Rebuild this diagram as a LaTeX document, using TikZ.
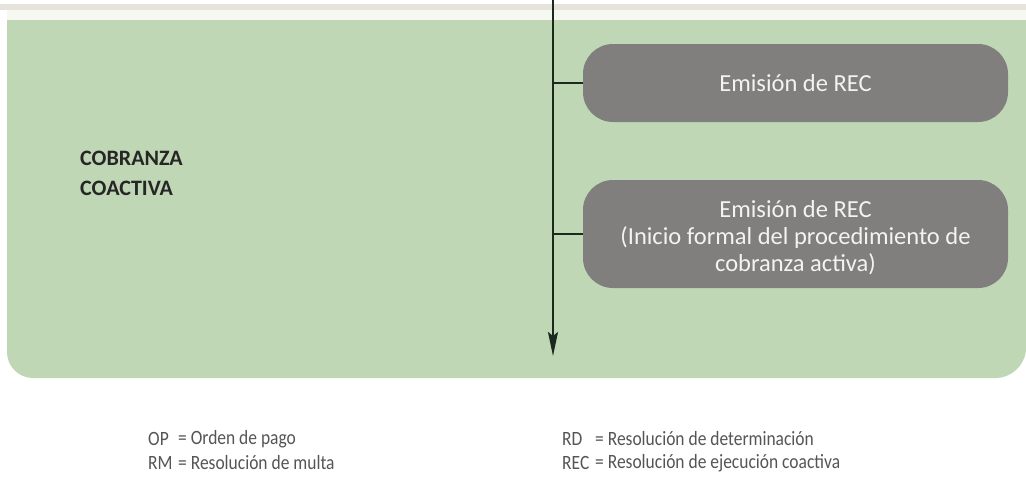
\documentclass[tikz,border=0pt]{standalone}
\usepackage{fontspec}
\setmainfont{Carlito}
\newfontfamily\legendfont[FakeStretch=0.86]{Carlito}
\usetikzlibrary{arrows.meta}
\definecolor{panel}{HTML}{BFD7B5}
\definecolor{boxgray}{HTML}{807F7D}
\definecolor{boxtext}{HTML}{F4F2F2}
\definecolor{linecol}{HTML}{1C2A1E}
\definecolor{legend}{HTML}{555555}
\definecolor{strip}{HTML}{E6E2DC}
\definecolor{paleband}{HTML}{F6F9F1}
\tikzset{
  graybox/.style={draw=none, fill=boxgray, rounded corners=30pt, minimum width=425pt, text=boxtext, font=\fontsize{24.5}{27}\selectfont, align=center, inner sep=0pt},
  boxlabel/.style={text=boxtext, font=\fontsize{24.5}{27}\selectfont, align=center, inner sep=0pt},
  conn/.style={draw=linecol, line width=2pt},
  legtxt/.style={anchor=west, text=legend, font=\legendfont\fontsize{20.3}{22}\selectfont, inner sep=0pt},
  heading/.style={anchor=west, font=\bfseries\fontsize{22}{30}\selectfont, text=black!85, align=left, inner sep=0pt}
}
\begin{document}
\begin{tikzpicture}[x=1pt,y=-1pt]
\useasboundingbox (0,0) rectangle (1026,479);
\fill[white] (0,0) rectangle (1026,479);
\fill[strip] (0,4) rectangle (1026,10);
\fill[paleband] (7,10) rectangle (1026,20);
\fill[panel] (7,20) -- (1026,20) -- (1026,350) [rounded corners=26pt] -- (1022,378) -- (7,378) [sharp corners] -- (7,20) -- cycle;
\node[heading] (title) at (80,173) {COBRANZA\\COACTIVA};
\node[graybox, minimum height=78pt] (b1) at (795.5,83) {Emisión de REC};
\node[graybox, minimum height=108pt] (b2) at (795.5,234) {};
\node[boxlabel] (b2text) at (795.5,238) {Emisión de REC\\(Inicio formal del procedimiento de\\cobranza activa)};
\coordinate (top) at (553,0);
\coordinate (bot) at (553,356);
\draw[conn, -{Stealth[length=24pt,width=10pt,inset=4pt]}] (top) -- (bot);
\draw[conn] (b1.west -| top) -- (b1.west);
\draw[conn] (b2.west -| top) -- (b2.west);
\node[legtxt] (k1) at (148,439) {OP};
\node[legtxt] (v1) at (178,439) {= Orden de pago};
\node[legtxt] (k2) at (148,463) {RM};
\node[legtxt] (v2) at (178,463) {= Resolución de multa};
\node[legtxt] (k3) at (562,439) {RD};
\node[legtxt] (v3) at (595,439) {= Resolución de determinación};
\node[legtxt] (k4) at (562,463) {REC};
\node[legtxt] (v4) at (595,463) {= Resolución de ejecución coactiva};
\end{tikzpicture}
\end{document}
